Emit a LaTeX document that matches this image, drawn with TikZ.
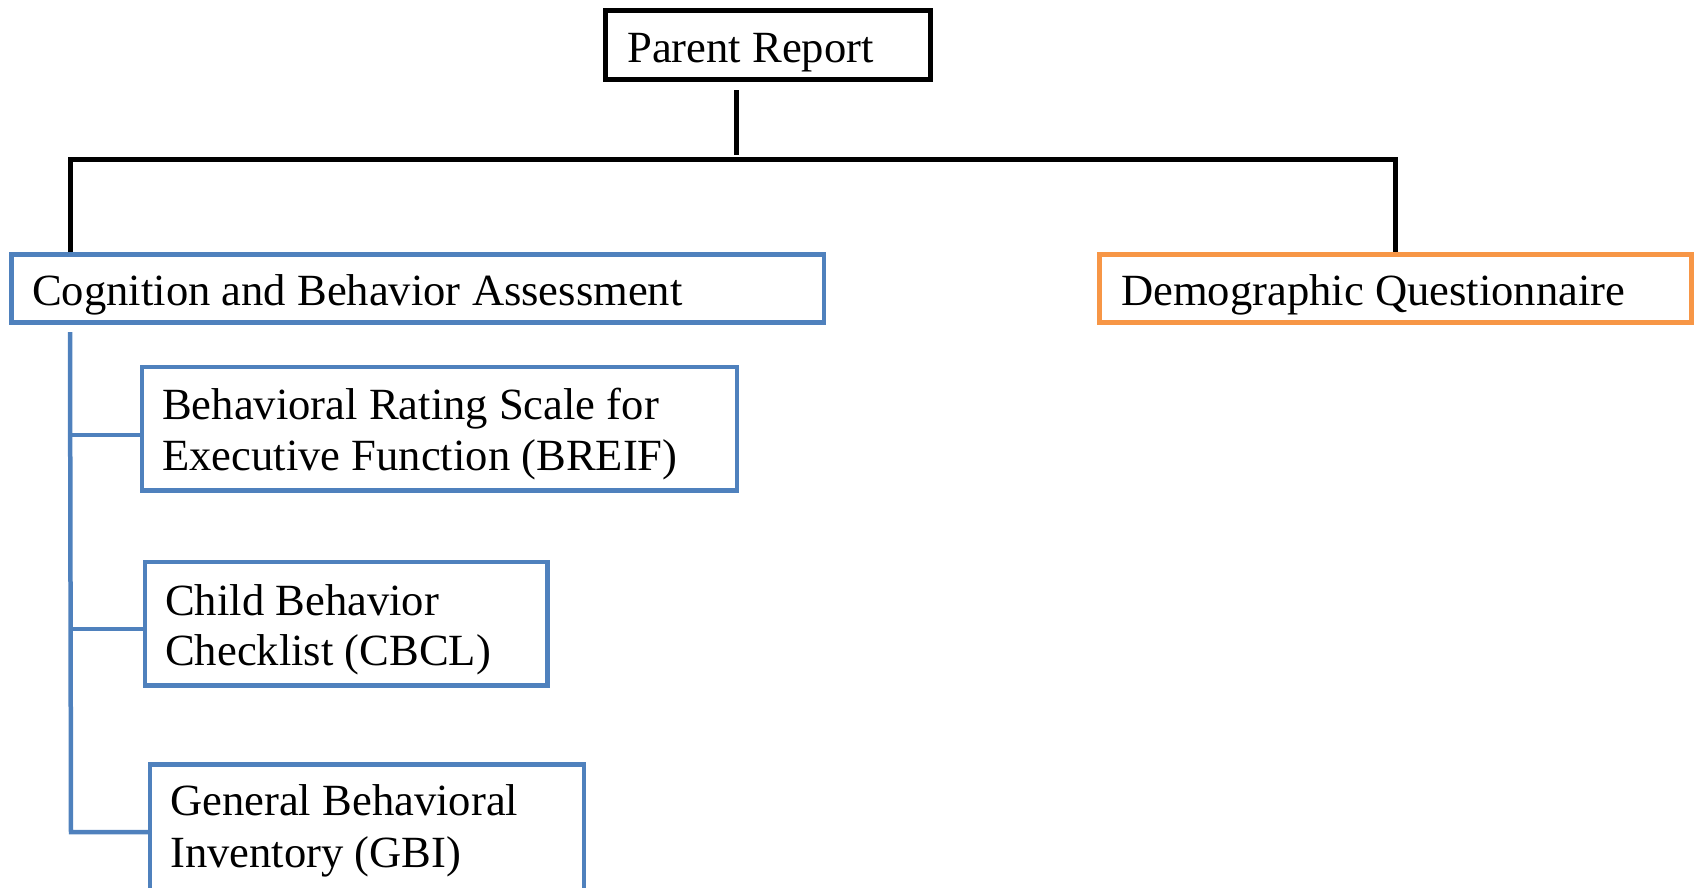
\documentclass[tikz,border=0pt]{standalone}
\usepackage{fontspec}
\setmainfont{Liberation Serif}
\definecolor{boxblue}{HTML}{4F81BD}
\definecolor{boxorange}{HTML}{F79646}
\begin{document}
\begin{tikzpicture}[x=1pt,y=-1pt,
  box/.style={draw,rectangle,inner sep=0pt,line join=miter},
  blackbox/.style={box,draw=black,line width=5pt},
  bluebox/.style={box,draw=boxblue,line width=4.5pt},
  orangebox/.style={box,draw=boxorange,line width=4.5pt},
  txt/.style={anchor=base west,inner sep=0pt,font=\fontsize{44.6}{51}\selectfont},
  blackline/.style={draw=black,line width=5pt},
  blueline/.style={draw=boxblue,line width=4.5pt}]
\useasboundingbox (0,0) rectangle (1698,887);
\begin{scope}
\clip (0,0) rectangle (1698,887);

% boxes
\node[blackbox,minimum width=325pt,minimum height=69pt] (parent) at (768,45) {};
\node[bluebox,minimum width=812.5pt,minimum height=68pt] (cog) at (417.75,288.5) {};
\node[orangebox,minimum width=592pt,minimum height=68pt] (demo) at (1395.5,288.5) {};
\node[bluebox,minimum width=595pt,minimum height=123.5pt] (breif) at (439.5,428.75) {};
\node[bluebox,minimum width=402.5pt,minimum height=123.5pt] (cbcl) at (346.25,623.75) {};
\node[bluebox,minimum width=434pt,minimum height=140pt] (gbi) at (367,834.5) {};

% labels
\node[txt] (parentT) at (627,62) {Parent Report};
\node[txt] (cogT) at (32,305) {Cognition and Behavior Assessment};
\node[txt] (demoT) at (1121,305) {Demographic Questionnaire};
\node[txt] (breifA) at (162,419) {Behavioral Rating Scale for};
\node[txt] (breifB) at (162,470) {Executive Function (BREIF)};
\node[txt] (cbclA) at (165,615) {Child Behavior};
\node[txt] (cbclB) at (165,665) {Checklist (CBCL)};
\node[txt] (gbiA) at (170,815) {General Behavioral};
\node[txt] (gbiB) at (170,867) {Inventory (GBI)};

% top-level tree
\coordinate (trunk) at (736,159.5);
\coordinate (jl) at (70.5,159.5);
\coordinate (jr) at (1395,159.5);
\draw[blackline] ([yshift=-8pt]parent.south -| trunk) -- ([yshift=5pt]trunk);
\draw[blackline] (cog.north -| jl) -- (jl) -- (jr) -- (demo.north -| jr);

% sub-tree of the assessment box
\coordinate (spine) at (70,332);
\coordinate (b1) at (70,435);
\coordinate (b2) at (70,629);
\coordinate (b3) at (71,832);
\draw[blueline] (spine) -- (b3) -- (b3 -| gbi.west);
\draw[blueline] (b1) -- (b1 -| breif.west);
\draw[blueline] (b2) -- (b2 -| cbcl.west);
\end{scope}
\end{tikzpicture}
\end{document}
